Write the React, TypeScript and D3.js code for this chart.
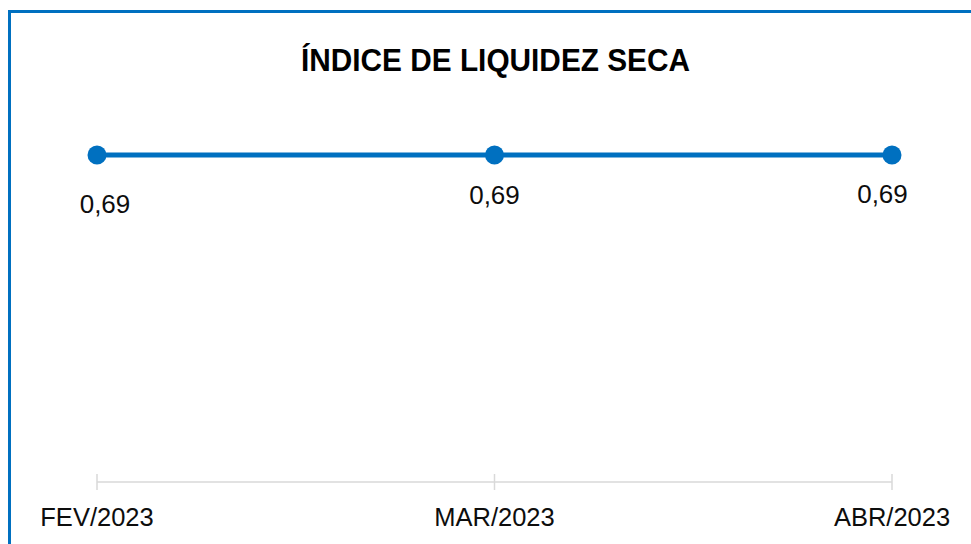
import React from "react";
import * as d3 from "d3";

const categories = ["FEV/2023", "MAR/2023", "ABR/2023"];
const values = [0.69, 0.69, 0.69];
const valueLabels = ["0,69", "0,69", "0,69"];
const title = "ÍNDICE DE LIQUIDEZ SECA";

const W = 971;
const H = 544;
const FONT = "'Liberation Sans', Arial, sans-serif";

export default function App() {
  const x = d3.scalePoint<string>().domain(categories).range([97, 892]);
  const y = d3.scaleLinear().domain([0, 0.69]).range([482, 155]);
  const line = d3
    .line<number>()
    .x((_, i) => x(categories[i]) as number)
    .y((d) => y(d));
  // label offsets as placed by the original (first nudged right, last nudged left, first lower)
  const labelDx = [8, 0, -9.5];
  const labelDy = [58, 49, 48];

  return (
    <svg
      width={W}
      height={H}
      style={{ position: "fixed", left: 0, top: 0, background: "#fff" }}
    >
      <rect x={0} y={0} width={W} height={H} fill="#fff" />
      <path d={`M9.5,${H + 5} V11.5 H${W + 5}`} fill="none" stroke="#0070C0" strokeWidth={3} />
      <text
        x={495.5}
        y={71}
        textAnchor="middle"
        fontFamily={FONT}
        fontWeight="bold"
        fontSize={32}
        textLength={389}
        lengthAdjust="spacingAndGlyphs"
        fill="#000"
      >
        {title}
      </text>
      {/* axis */}
      <line x1={x(categories[0])} x2={x(categories[2])} y1={482} y2={482} stroke="#d9d9d9" strokeWidth={1.5} />
      {categories.map((c) => (
        <line key={c} x1={x(c)} x2={x(c)} y1={474} y2={490} stroke="#d9d9d9" strokeWidth={1.5} />
      ))}
      {categories.map((c) => (
        <text
          key={c}
          x={x(c)}
          y={526}
          textAnchor="middle"
          fontFamily={FONT}
          fontSize={25.5}
          fill="#0d0d0d"
        >
          {c}
        </text>
      ))}
      <path d={line(values) || ""} fill="none" stroke="#0070C0" strokeWidth={5} />
      {values.map((v, i) => (
        <circle key={i} cx={x(categories[i])} cy={y(v)} r={9.5} fill="#0070C0" />
      ))}
      {values.map((v, i) => (
        <text
          key={i}
          x={(x(categories[i]) as number) + labelDx[i]}
          y={y(v) + labelDy[i]}
          textAnchor="middle"
          fontFamily={FONT}
          fontSize={26}
          fill="#0d0d0d"
        >
          {valueLabels[i]}
        </text>
      ))}
    </svg>
  );
}
